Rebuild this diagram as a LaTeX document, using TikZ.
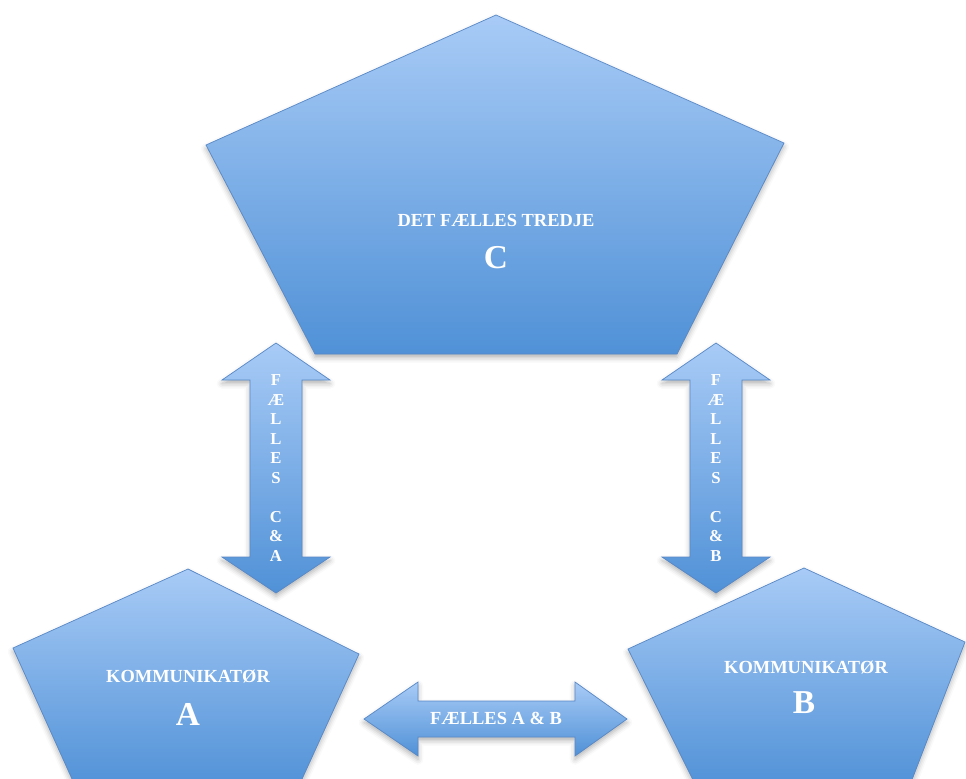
\documentclass[tikz,border=0pt]{standalone}
\usepackage{fontspec}
\setmainfont{Liberation Serif}
\usetikzlibrary{shadows.blur}

\definecolor{pentop}{RGB}{168,203,246}
\definecolor{penbot}{RGB}{80,145,215}
\definecolor{penedge}{RGB}{88,136,198}

\begin{document}
\begin{tikzpicture}[x=0.02cm, y=-0.02cm]
        \tikzstyle{pent}=[draw=penedge, line width=0.4pt,
            top color=pentop, bottom color=penbot,
            blur shadow={shadow xshift=0pt, shadow yshift=-2pt,
                shadow blur radius=3pt, shadow opacity=30}]
        \tikzstyle{blockarrow}=[pent]
        \tikzstyle{small}=[text=white, inner sep=0pt,
            font=\bfseries\fontsize{10.5}{12}\selectfont]
        \tikzstyle{big}=[text=white, inner sep=0pt,
            font=\bfseries\fontsize{19}{19}\selectfont]
        \tikzstyle{stack}=[text=white, inner sep=0pt, align=center,
            font=\bfseries\fontsize{9.5}{11.1}\selectfont]

        \useasboundingbox (0,0) rectangle (966,778);
        \clip (0,0) rectangle (966,778);

        % the three pentagons
        \draw[pent] (496,15) -- (784,143) -- (677,354) -- (315,354) -- (206,145) -- cycle;
        \draw[pent] (188,569) -- (359,654) -- (297,790) -- (77,790) -- (13,648) -- cycle;
        \draw[pent] (804,568) -- (965,642) -- (908,790) -- (698,790) -- (628,649) -- cycle;

        % up/down arrows
        \foreach \x in {276, 716} {
            \draw[blockarrow] (\x,343) -- (\x+54,380) -- (\x+26,380) -- (\x+26,557)
                -- (\x+54,557) -- (\x,593) -- (\x-54,557) -- (\x-26,557)
                -- (\x-26,380) -- (\x-54,380) -- cycle;
        }
        % left/right arrow
        \draw[blockarrow] (364,719) -- (418,682) -- (418,701) -- (575,701) -- (575,682)
            -- (627,719) -- (575,756) -- (575,737) -- (418,737) -- (418,756) -- cycle;

        \node[small] (Ctext) at (496,220) {DET FÆLLES TREDJE};
        \node[big] (C) at (496,258) {C};
        \node[small] (Atext) at (188,676) {KOMMUNIKATØR};
        \node[big] (A) at (188,714) {A};
        \node[small] (Btext) at (806,667) {KOMMUNIKATØR};
        \node[big] (B) at (804,703) {B};

        \node[stack] (CA) at (276,468) {F\\Æ\\L\\L\\E\\S\\[11.1pt]C\\\&\\A};
        \node[stack] (CB) at (716,468) {F\\Æ\\L\\L\\E\\S\\[11.1pt]C\\\&\\B};
        \node[small] (AB) at (496,718) {FÆLLES A \& B};

    \end{tikzpicture}
\end{document}
